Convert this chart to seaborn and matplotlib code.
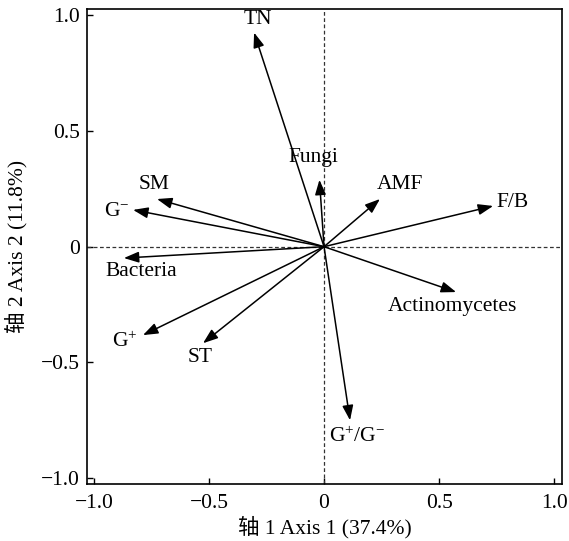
import matplotlib
matplotlib.use('Agg')
import matplotlib.pyplot as plt
import seaborn as sns

# loadings (axis 1, axis 2)
nomes = ['TN', 'Fungi', 'AMF', 'F/B', 'Actinomycetes', 'SM',
         '$\\mathregular{G^{-}}$', 'Bacteria', '$\\mathregular{G^{+}}$', 'ST',
         '$\\mathregular{G^{+}/G^{-}}$']
eixo1 = [-0.304, -0.020, 0.243, 0.735, 0.574, -0.726, -0.830, -0.870, -0.787, -0.526, 0.113]
eixo2 = [0.925, 0.289, 0.206, 0.176, -0.196, 0.206, 0.159, -0.049, -0.382, -0.417, -0.750]
# where each label sits
rot_x = [-0.287, -0.048, 0.330, 0.820, 0.557, -0.740, -0.900, -0.796, -0.865, -0.540, 0.143]
rot_y = [0.980, 0.384, 0.270, 0.190, -0.260, 0.267, 0.154, -0.105, -0.410, -0.480, -0.820]

ticks = [-1.0, -0.5, 0, 0.5, 1.0]
tick_txt = ['\u22121.0', '\u22120.5', '0', '0.5', '1.0']

sns.set_theme(style='ticks')
plt.rcParams['font.family'] = ['Liberation Serif', 'Noto Sans CJK SC']
plt.rcParams['mathtext.default'] = 'regular'
plt.rcParams['axes.unicode_minus'] = True

fs = 15.5

fig = plt.figure(figsize=(5.69, 5.41), dpi=100)
ax = fig.add_axes([0.153, 0.105, 0.835, 0.878])

ax.axhline(0, color='#333333', lw=0.9, ls=(0, (3, 2)), zorder=1)
ax.axvline(0, color='#333333', lw=0.9, ls=(0, (3, 2)), zorder=1)

for n, x, y, tx, ty in zip(nomes, eixo1, eixo2, rot_x, rot_y):
    ax.annotate('', xy=(x, y), xytext=(0, 0),
                arrowprops=dict(arrowstyle='-|>,head_length=0.6,head_width=0.22',
                                color='black', lw=1.1, shrinkA=0, shrinkB=0,
                                mutation_scale=15))
    ax.text(tx, ty, n, fontsize=fs, ha='center', va='center', color='black')

ax.set_xlim(-1.03, 1.035)
ax.set_ylim(-1.026, 1.026)
ax.set_xticks(ticks)
ax.set_xticklabels(tick_txt)
ax.set_yticks(ticks)
ax.set_yticklabels(tick_txt)
ax.tick_params(direction='in', length=4, width=1, labelsize=fs, color='black', labelcolor='black')
ax.tick_params(axis='x', pad=7)
ax.tick_params(axis='y', pad=5)
for s in ax.spines.values():
    s.set_linewidth(1.2)
    s.set_color('black')

ax.set_xlabel('轴 1 Axis 1 (37.4%)', fontsize=fs, color='black', labelpad=2)
ax.set_ylabel('轴 2 Axis 2 (11.8%)', fontsize=fs, color='black', labelpad=10)

fig.savefig('out.png', dpi=100)
